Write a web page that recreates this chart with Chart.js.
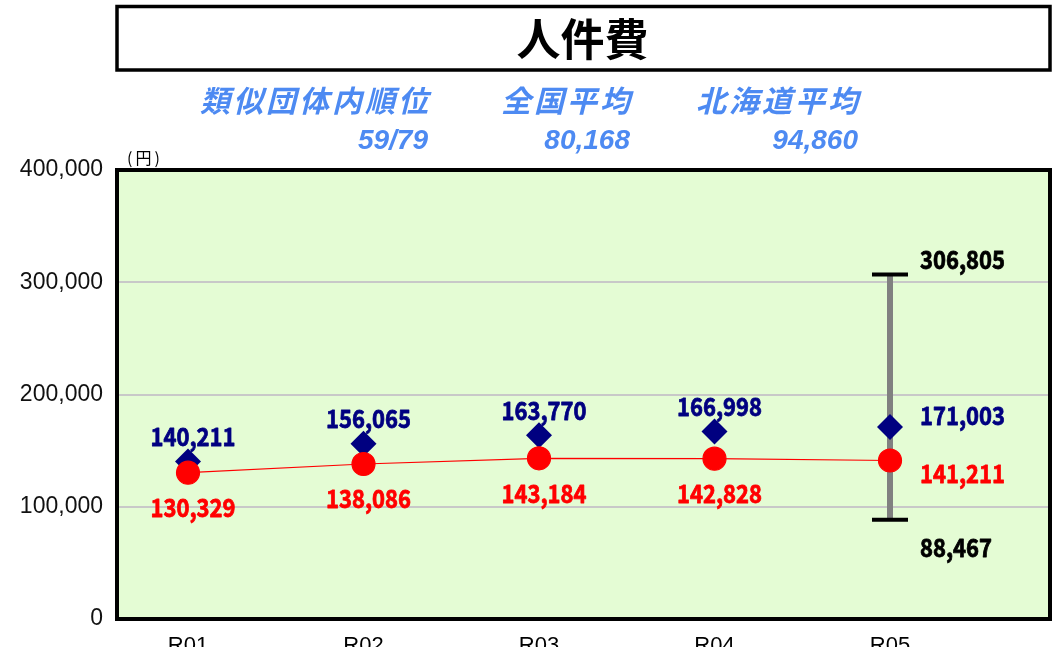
<!DOCTYPE html>
<html>
<head>
<meta charset="utf-8">
<script src="https://cdn.jsdelivr.net/npm/chart.js@4/dist/chart.umd.min.js"></script>
<style>
  html, body { margin: 0; padding: 0; background: #ffffff; }
  #wrap { width: 1064px; height: 647px; }
</style>
</head>
<body>
<div id="wrap"><canvas id="c" width="1064" height="647"></canvas></div>
<script>
// 人件費 (円) by fiscal year
const categories = ['R01', 'R02', 'R03', 'R04', 'R05'];
const ownValues = [130329, 138086, 143184, 142828, 141211];     // 当該団体
const groupAvg = [140211, 156065, 163770, 166998, 171003];      // 類似団体平均
const groupMax = [306805];                                      // 類似団体 最大 (R05)
const groupMin = [88467];                                       // 類似団体 最小 (R05)
const yTicks = [0, 100000, 200000, 300000, 400000];
const headerItems = [
  { label: '類似団体内順位', value: '59/79' },
  { label: '全国平均', value: '80,168' },
  { label: '北海道平均', value: '94,860' }
];

const lastIdx = categories.length - 1;
const fmt = v => v.toLocaleString('en-US');
const LABEL_FONT = 'bold 25px "Noto Sans CJK JP", "Liberation Sans", sans-serif';
const SQUEEZE = 0.88;

// condensed, heavy value label
function label(ctx, text, x, y, align, color) {
  ctx.save();
  ctx.font = LABEL_FONT;
  ctx.fillStyle = color;
  ctx.strokeStyle = color;
  ctx.lineWidth = 0.8;
  ctx.lineJoin = 'round';
  ctx.textBaseline = 'middle';
  ctx.textAlign = align;
  ctx.translate(x, y);
  ctx.scale(SQUEEZE, 1);
  ctx.fillText(text, 0, 0);
  ctx.strokeText(text, 0, 0);
  ctx.restore();
}

const panelPlugin = {
  id: 'panel',
  beforeDraw(chart) {
    const { ctx, chartArea: a } = chart;
    ctx.save();
    ctx.fillStyle = '#ffffff';
    ctx.fillRect(0, 0, chart.width, chart.height);
    ctx.fillStyle = '#e4fcd4';
    ctx.fillRect(a.left, a.top, a.right - a.left, a.bottom - a.top);
    ctx.restore();
  },
  afterDraw(chart) {
    const { ctx, chartArea: a } = chart;
    ctx.save();
    // plot frame
    ctx.strokeStyle = '#000000';
    ctx.lineWidth = 4;
    ctx.strokeRect(a.left, a.top, a.right - a.left, a.bottom - a.top);

    // title box
    ctx.lineWidth = 3.5;
    ctx.strokeRect(a.left, 6.5, a.right - a.left, 63.5);
    ctx.fillStyle = '#000000';
    ctx.font = 'bold 44px "Noto Sans CJK JP", sans-serif';
    ctx.textAlign = 'center';
    ctx.textBaseline = 'middle';
    ctx.fillText('人件費', (a.left + a.right) / 2 - 1, 39);

    // header figures
    const rights = [428, 630, 858];
    ctx.fillStyle = '#4d8af2';
    ctx.textAlign = 'right';
    headerItems.forEach((h, i) => {
      ctx.font = 'italic bold 30px "Noto Sans CJK JP", sans-serif';
      ctx.letterSpacing = '3px';
      ctx.fillText(h.label, rights[i] + 3, 101);
      ctx.letterSpacing = '0px';
      ctx.font = 'italic bold 28px "Liberation Sans", Arial, sans-serif';
      ctx.fillText(h.value, rights[i], 141);
    });

    // unit
    ctx.fillStyle = '#000000';
    ctx.textAlign = 'left';
    ctx.font = '16px "Noto Sans CJK JP", sans-serif';
    ctx.letterSpacing = '3px';
    ctx.fillText('(円)', 127, 158);
    ctx.letterSpacing = '0px';
    ctx.restore();

    // value labels
    const own = chart.getDatasetMeta(0).data;
    const avg = chart.getDatasetMeta(1).data;
    own.forEach((p, i) => {
      if (i === lastIdx) label(ctx, fmt(ownValues[i]), p.x + 30, p.y + 13, 'left', '#ff0000');
      else label(ctx, fmt(ownValues[i]), p.x + 5, p.y + 35, 'center', '#ff0000');
    });
    avg.forEach((p, i) => {
      if (i === lastIdx) label(ctx, fmt(groupAvg[i]), p.x + 30, p.y - 12, 'left', '#000080');
      else label(ctx, fmt(groupAvg[i]), p.x + 5, p.y - 25, 'center', '#000080');
    });
    const caps = chart.getDatasetMeta(3).data;
    label(ctx, fmt(groupMax[0]), caps[0].x + 30, caps[0].y - 15, 'left', '#000000');
    label(ctx, fmt(groupMin[0]), caps[1].x + 30, caps[1].y + 28, 'left', '#000000');
  }
};

const ownPoints = ownValues.map((v, i) => ({ x: i, y: v }));
const avgPoints = groupAvg.map((v, i) => ({ x: i, y: v }));
const rangeLine = [{ x: lastIdx, y: groupMin[0] }, { x: lastIdx, y: groupMax[0] }];
const capPoints = [{ x: lastIdx, y: groupMax[0] }, { x: lastIdx, y: groupMin[0] }];

new Chart(document.getElementById('c'), {
  type: 'line',
  data: {
    datasets: [
      {
        label: '当該団体値',
        data: ownPoints,
        borderColor: '#ff0000',
        borderWidth: 1.2,
        backgroundColor: '#ff0000',
        pointBackgroundColor: '#ff0000',
        pointBorderColor: '#ff0000',
        pointRadius: 11.5,
        pointStyle: 'circle',
        order: 0
      },
      {
        label: '類似団体内平均値',
        data: avgPoints,
        showLine: false,
        pointStyle: 'rectRot',
        pointRadius: 13,
        pointBackgroundColor: '#000080',
        pointBorderColor: '#000080',
        pointBorderWidth: 0,
        order: 1
      },
      {
        label: '類似団体内最大・最小',
        data: rangeLine,
        borderColor: '#808080',
        borderWidth: 6,
        pointRadius: 0,
        order: 3
      },
      {
        label: 'caps',
        data: capPoints,
        showLine: false,
        pointStyle: 'line',
        pointRadius: 18,
        pointBorderColor: '#000000',
        pointBorderWidth: 4,
        order: 2
      }
    ]
  },
  options: {
    responsive: false,
    animation: false,
    events: [],
    layout: { padding: { top: 170, right: 14, left: 0, bottom: 0 }, autoPadding: false },
    plugins: { legend: { display: false }, tooltip: { enabled: false } },
    scales: {
      x: {
        type: 'linear',
        min: -0.4046,
        max: 4.9117,
        afterFit(s) { s.height = 28; },
        afterBuildTicks(s) { s.ticks = categories.map((_, i) => ({ value: i })); },
        ticks: {
          callback: v => categories[v] ?? '',
          font: { family: '"Liberation Sans", Arial, sans-serif', size: 22 },
          color: '#000000',
          padding: 6,
          maxRotation: 0,
          autoSkip: false
        },
        grid: { display: false },
        border: { display: false }
      },
      y: {
        min: 0,
        max: 400000,
        afterFit(s) { s.width = 117; },
        afterBuildTicks(s) { s.ticks = yTicks.map(v => ({ value: v })); },
        ticks: {
          callback: v => fmt(v),
          font: { family: '"Liberation Sans", Arial, sans-serif', size: 23 },
          color: '#111111',
          padding: 14
        },
        grid: { color: '#c8c8c8', lineWidth: 2, drawTicks: false },
        border: { display: false }
      }
    }
  },
  plugins: [panelPlugin]
});
</script>
</body>
</html>
